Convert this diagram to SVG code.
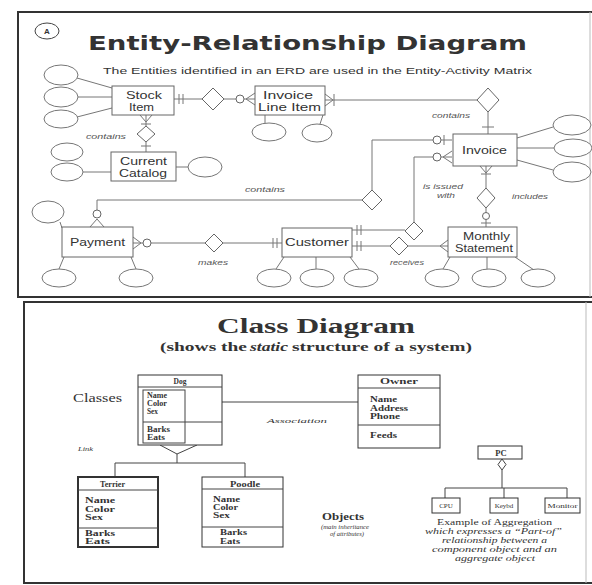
<svg xmlns="http://www.w3.org/2000/svg" width="592" height="585" viewBox="0 0 592 585">
<style>
.panel{fill:none;stroke:#333;stroke-width:2}
.edge{fill:none;stroke:#bbb;stroke-width:1}
.ent{fill:#fff;stroke:#666;stroke-width:1}
.att{fill:#fff;stroke:#777;stroke-width:1}
.ln{fill:none;stroke:#777;stroke-width:1}
.rel{fill:#fff;stroke:#666;stroke-width:1}
.opt{fill:#fff;stroke:#666;stroke-width:1}
.et{font-family:"Liberation Sans",Arial,sans-serif;font-size:10.5px;fill:#333}
.lb{font-family:"Liberation Sans",Arial,sans-serif;font-size:7px;font-style:italic;fill:#555}
.cls{fill:#fff;stroke:#333;stroke-width:1}
.thick{stroke-width:2}
.cl{fill:none;stroke:#444;stroke-width:1}
.sf{font-family:"Liberation Serif","Times New Roman",serif;fill:#333}
.ca{font-size:7.5px;font-weight:bold}
.it{font-style:italic}
</style>
<rect width="592" height="585" fill="#fff"/>

<!-- ===== Entity-Relationship panel ===== -->
<path class="panel" d="M592,12 H18 V297 H592"/>
<path class="edge" d="M590,12 V297"/>
<g id="badge">
  <ellipse cx="47" cy="31" rx="12" ry="8" fill="none" stroke="#444" stroke-width="1"/>
  <text x="47" y="34" text-anchor="middle" font-family="Liberation Sans, Arial, sans-serif" font-size="8" font-weight="bold" fill="#333">A</text>
</g>
<text x="88" y="50" font-family="DejaVu Sans, Liberation Sans, sans-serif" font-size="19" font-weight="bold" fill="#333" textLength="439" lengthAdjust="spacingAndGlyphs">Entity-Relationship Diagram</text>
<text x="103" y="74" font-family="Liberation Sans, Arial, sans-serif" font-size="9" fill="#333" textLength="429" lengthAdjust="spacingAndGlyphs">The Entities identified in an ERD are used in the Entity-Activity Matrix</text>

<!-- relationships and cardinality marks -->
<g id="connectors">
  <!-- Stock Item - Invoice Line Item -->
  <path class="ln" d="M174,99 H202 M224,99 H255 M179,94 V104 M183,94 V104 M246,99 L255,93 M246,99 L255,105"/>
  <circle class="opt" cx="240" cy="99" r="4"/>
  <polygon class="rel" points="202,99 213,88 224,99 213,110"/>
  <!-- Stock Item - Current Catalog -->
  <path class="ln" d="M146,115 V126 M146,142 V152 M146,122 L140,115 M146,122 L152,115 M141,124 H151 M141,146 H151"/>
  <polygon class="rel" points="137,134 146,126 155,134 146,142"/>
  <!-- Invoice Line Item - Invoice -->
  <path class="ln" d="M325,100 H477 M333,100 L325,94 M333,100 L325,106 M334,94 V106 M488,112 V134 M482,127 H494"/>
  <polygon class="rel" points="477,100 488,88 499,100 488,112"/>
  <!-- Invoice - Monthly Statement -->
  <path class="ln" d="M486,166 V188 M486,173 L480,166 M486,173 L492,166 M481,174 H491 M486,208 V227 M481,223 H491"/>
  <polygon class="rel" points="477,198 486,188 495,198 486,208"/>
  <circle class="opt" cx="486" cy="216" r="3.5"/>
  <!-- Customer - Invoice (is issued with) -->
  <path class="ln" d="M352,230 H405 M357,225 V235 M361,225 V235 M414,222 V157 H452 M443,157 L452,151 M443,157 L452,163"/>
  <circle class="opt" cx="437" cy="157" r="4"/>
  <polygon class="rel" points="405,231 414,222 423,231 414,240"/>
  <!-- Customer - Monthly Statement (receives) -->
  <path class="ln" d="M352,246 H390 M357,241 V251 M361,241 V251 M408,246 H448 M440,246 L448,240 M440,246 L448,252"/>
  <polygon class="rel" points="390,246 399,237 408,246 399,255"/>
  <!-- Payment - Customer (makes) -->
  <path class="ln" d="M133,243 H205 M141,243 L133,237 M141,243 L133,249 M223,243 H282 M273,238 V248 M277,238 V248"/>
  <circle class="opt" cx="147" cy="243" r="4"/>
  <polygon class="rel" points="205,243 214,234 223,243 214,252"/>
  <!-- Invoice - Payment (contains) -->
  <path class="ln" d="M452,140 H372 V190 M444,135 V145 M362,200 H97 V210 M97,219 L90,227 M97,219 L104,227"/>
  <circle class="opt" cx="437" cy="140" r="4"/>
  <circle class="opt" cx="97" cy="214" r="4"/>
  <polygon class="rel" points="362,200 372,190 382,200 372,210"/>
  <!-- attribute links -->
  <path class="ln" d="M77,78 L112,88 M78,97 H112 M77,117 L112,108 M83,172 H111 M176,167 H188 M265,115 V123 M323,115 L320,124 M517,138 L553,127 M517,148 H554 M517,160 L553,170 M60,222 L62,228 M64,257 L59,269 M131,257 L136,269 M284,257 L276,269 M316,257 V269 M350,257 L359,269 M450,257 L443,269 M487,257 V269 M515,257 L534,270"/>
  <!-- relationship labels -->
  <text class="lb" x="86" y="139" textLength="40" lengthAdjust="spacingAndGlyphs">contains</text>
  <text class="lb" x="432" y="118" textLength="38" lengthAdjust="spacingAndGlyphs">contains</text>
  <text class="lb" x="245" y="192" textLength="40" lengthAdjust="spacingAndGlyphs">contains</text>
  <text class="lb" x="198" y="265" textLength="30" lengthAdjust="spacingAndGlyphs">makes</text>
  <text class="lb" x="423" y="189" textLength="40" lengthAdjust="spacingAndGlyphs">is issued</text>
  <text class="lb" x="437" y="198" textLength="18" lengthAdjust="spacingAndGlyphs">with</text>
  <text class="lb" x="512" y="199" textLength="36" lengthAdjust="spacingAndGlyphs">includes</text>
  <text class="lb" x="390" y="265" textLength="34" lengthAdjust="spacingAndGlyphs">receives</text>
</g>

<!-- entities -->
<g id="stock-item">
  <ellipse class="att" cx="61" cy="75" rx="17" ry="10"/>
  <ellipse class="att" cx="61" cy="97" rx="17" ry="10"/>
  <ellipse class="att" cx="61" cy="119" rx="17" ry="9"/>
  <rect class="ent" x="112" y="86" width="62" height="29"/>
  <text class="et" x="126" y="99" textLength="36" lengthAdjust="spacingAndGlyphs">Stock</text>
  <text class="et" x="129" y="111" textLength="25" lengthAdjust="spacingAndGlyphs">Item</text>
</g>
<g id="invoice-line-item">
  <rect class="ent" x="255" y="86" width="70" height="29"/>
  <text class="et" x="263" y="99" textLength="50" lengthAdjust="spacingAndGlyphs">Invoice</text>
  <text class="et" x="258" y="111" textLength="63" lengthAdjust="spacingAndGlyphs">Line Item</text>
  <ellipse class="att" cx="269" cy="132" rx="17" ry="9"/>
  <ellipse class="att" cx="317" cy="133" rx="15" ry="9"/>
</g>
<g id="current-catalog">
  <ellipse class="att" cx="67" cy="152" rx="16" ry="9"/>
  <ellipse class="att" cx="67" cy="172" rx="16" ry="9"/>
  <rect class="ent" x="111" y="152" width="65" height="29"/>
  <text class="et" x="120" y="165" textLength="47" lengthAdjust="spacingAndGlyphs">Current</text>
  <text class="et" x="119" y="177" textLength="48" lengthAdjust="spacingAndGlyphs">Catalog</text>
  <ellipse class="att" cx="205" cy="167" rx="17" ry="10"/>
</g>
<g id="invoice">
  <rect class="ent" x="453" y="134" width="64" height="32"/>
  <text class="et" x="462" y="154" textLength="45" lengthAdjust="spacingAndGlyphs">Invoice</text>
  <ellipse class="att" cx="572" cy="125" rx="19" ry="10"/>
  <ellipse class="att" cx="573" cy="148" rx="19" ry="9"/>
  <ellipse class="att" cx="572" cy="172" rx="19" ry="10"/>
</g>
<g id="payment">
  <ellipse class="att" cx="48" cy="212" rx="16" ry="11"/>
  <rect class="ent" x="62" y="227" width="71" height="30"/>
  <text class="et" x="70" y="246" textLength="55" lengthAdjust="spacingAndGlyphs">Payment</text>
  <ellipse class="att" cx="59" cy="278" rx="17" ry="9"/>
  <ellipse class="att" cx="136" cy="278" rx="17" ry="9"/>
</g>
<g id="customer">
  <rect class="ent" x="282" y="228" width="70" height="29"/>
  <text class="et" x="285" y="246" textLength="64" lengthAdjust="spacingAndGlyphs">Customer</text>
  <ellipse class="att" cx="274" cy="278" rx="17" ry="9"/>
  <ellipse class="att" cx="317" cy="278" rx="17" ry="9"/>
  <ellipse class="att" cx="361" cy="278" rx="17" ry="9"/>
</g>
<g id="monthly-statement">
  <rect class="ent" x="448" y="227" width="69" height="30"/>
  <text class="et" x="463" y="240" textLength="47" lengthAdjust="spacingAndGlyphs">Monthly</text>
  <text class="et" x="455" y="252" textLength="58" lengthAdjust="spacingAndGlyphs">Statement</text>
  <ellipse class="att" cx="442" cy="278" rx="17" ry="9"/>
  <ellipse class="att" cx="489" cy="278" rx="17" ry="9"/>
  <ellipse class="att" cx="538" cy="278" rx="17" ry="9"/>
</g>

<!-- ===== Class diagram panel ===== -->
<path class="panel" d="M592,302 H24 V583 H592" stroke-width="1.5"/>
<path class="edge" d="M586,302 V583"/>
<text class="sf" x="217" y="333" font-size="20" font-weight="bold" textLength="198" lengthAdjust="spacingAndGlyphs">Class Diagram</text>
<text class="sf" x="160" y="351" font-size="12" font-weight="bold" textLength="87" lengthAdjust="spacingAndGlyphs">(shows the</text>
<text class="sf it" x="250" y="351" font-size="12" font-weight="bold" textLength="38" lengthAdjust="spacingAndGlyphs">static</text>
<text class="sf" x="292" y="351" font-size="12" font-weight="bold" textLength="180" lengthAdjust="spacingAndGlyphs">structure of a system)</text>

<text class="sf" x="73" y="402" font-size="12" textLength="49" lengthAdjust="spacingAndGlyphs">Classes</text>
<text class="sf it" x="267" y="423" font-size="6.5" textLength="60" lengthAdjust="spacingAndGlyphs">Association</text>
<text class="sf it" x="78" y="451" font-size="7" textLength="15" lengthAdjust="spacingAndGlyphs">Link</text>

<g id="class-links">
  <path class="cl" d="M222,402 H358"/>
  <path class="cl" d="M160,445 L177,454 L197,445 M177,454 V463 M115,463 H245 M115,463 V477 M245,463 V477"/>
  <path class="cl" d="M502,470 V488 M445,488 H567 M445,488 V498 M504,488 V498 M567,488 V498"/>
  <polygon points="502,459 506,464.5 502,470 498,464.5" fill="#fff" stroke="#444"/>
</g>

<g id="dog">
  <rect class="cls" x="138" y="375" width="84" height="70"/>
  <path class="cl" d="M138,387 H222 M143,422 H222"/>
  <rect x="143" y="390" width="42" height="53" fill="none" stroke="#444"/>
  <text class="sf ca" x="180" y="384" text-anchor="middle">Dog</text>
  <text class="sf ca" x="147" y="398" textLength="20" lengthAdjust="spacingAndGlyphs">Name</text>
  <text class="sf ca" x="147" y="406" textLength="20" lengthAdjust="spacingAndGlyphs">Color</text>
  <text class="sf ca" x="147" y="414" textLength="11" lengthAdjust="spacingAndGlyphs">Sex</text>
  <text class="sf ca" x="147" y="432" textLength="23" lengthAdjust="spacingAndGlyphs">Barks</text>
  <text class="sf ca" x="147" y="440" textLength="18" lengthAdjust="spacingAndGlyphs">Eats</text>
</g>
<g id="owner">
  <rect class="cls" x="358" y="375" width="82" height="73"/>
  <path class="cl" d="M358,388 H440 M358,425 H440"/>
  <text class="sf ca" x="380" y="384" textLength="38" lengthAdjust="spacingAndGlyphs">Owner</text>
  <text class="sf ca" x="370" y="402" textLength="27" lengthAdjust="spacingAndGlyphs">Name</text>
  <text class="sf ca" x="370" y="411" textLength="38" lengthAdjust="spacingAndGlyphs">Address</text>
  <text class="sf ca" x="370" y="419" textLength="30" lengthAdjust="spacingAndGlyphs">Phone</text>
  <text class="sf ca" x="370" y="438" textLength="27" lengthAdjust="spacingAndGlyphs">Feeds</text>
</g>
<g id="terrier">
  <rect class="cls thick" x="78" y="477" width="80" height="70"/>
  <path class="cl" d="M78,490 H158 M78,528 H158"/>
  <text class="sf ca" x="100" y="487" textLength="25" lengthAdjust="spacingAndGlyphs">Terrier</text>
  <text class="sf ca" x="85" y="503" textLength="30" lengthAdjust="spacingAndGlyphs">Name</text>
  <text class="sf ca" x="85" y="512" textLength="30" lengthAdjust="spacingAndGlyphs">Color</text>
  <text class="sf ca" x="85" y="520" textLength="18" lengthAdjust="spacingAndGlyphs">Sex</text>
  <text class="sf ca" x="85" y="536" textLength="30" lengthAdjust="spacingAndGlyphs">Barks</text>
  <text class="sf ca" x="85" y="544" textLength="25" lengthAdjust="spacingAndGlyphs">Eats</text>
</g>
<g id="poodle">
  <rect class="cls" x="202" y="477" width="81" height="70" stroke-width="1.5"/>
  <path class="cl" d="M202,489 H283 M202,527 H283"/>
  <text class="sf ca" x="230" y="487" font-weight="normal" textLength="30" lengthAdjust="spacingAndGlyphs">Poodle</text>
  <text class="sf ca" x="213" y="502" font-weight="normal" textLength="27" lengthAdjust="spacingAndGlyphs">Name</text>
  <text class="sf ca" x="213" y="510" font-weight="normal" textLength="25" lengthAdjust="spacingAndGlyphs">Color</text>
  <text class="sf ca" x="213" y="518" font-weight="normal" textLength="17" lengthAdjust="spacingAndGlyphs">Sex</text>
  <text class="sf ca" x="220" y="535" font-weight="normal" textLength="27" lengthAdjust="spacingAndGlyphs">Barks</text>
  <text class="sf ca" x="220" y="544" font-weight="normal" textLength="20" lengthAdjust="spacingAndGlyphs">Eats</text>
</g>
<g id="objects-note">
  <text class="sf" x="343" y="520" font-size="11" font-weight="bold" text-anchor="middle" textLength="42" lengthAdjust="spacingAndGlyphs">Objects</text>
  <text class="sf it" x="345" y="529" font-size="7" text-anchor="middle" textLength="48" lengthAdjust="spacingAndGlyphs">(main inheritance</text>
  <text class="sf it" x="347" y="536" font-size="7" text-anchor="middle" textLength="34" lengthAdjust="spacingAndGlyphs">of attributes)</text>
</g>
<g id="pc">
  <rect class="cls" x="478" y="446" width="44" height="13"/>
  <text class="sf" x="501" y="456" font-size="8.5" font-weight="bold" text-anchor="middle">PC</text>
</g>
<g id="cpu">
  <rect class="cls" x="432" y="498" width="28" height="15"/>
  <text class="sf" x="446" y="508" font-size="7" text-anchor="middle">CPU</text>
</g>
<g id="keybd">
  <rect class="cls" x="490" y="498" width="28" height="15"/>
  <text class="sf" x="504" y="508" font-size="7" text-anchor="middle">Keybd</text>
</g>
<g id="monitor">
  <rect class="cls" x="545" y="498" width="35" height="15"/>
  <text class="sf" x="562.5" y="508" font-size="7" text-anchor="middle" textLength="30" lengthAdjust="spacingAndGlyphs">Monitor</text>
</g>
<g id="aggregation-note" class="sf" font-size="8">
  <text x="437" y="525" textLength="115" lengthAdjust="spacingAndGlyphs">Example of Aggregation</text>
  <text class="it" x="425" y="534" textLength="137" lengthAdjust="spacingAndGlyphs">which expresses a &#8220;Part-of&#8221;</text>
  <text class="it" x="442" y="543" textLength="105" lengthAdjust="spacingAndGlyphs">relationship between a</text>
  <text class="it" x="432" y="552" textLength="125" lengthAdjust="spacingAndGlyphs">component object and an</text>
  <text class="it" x="455" y="561" textLength="80" lengthAdjust="spacingAndGlyphs">aggregate object</text>
</g>
</svg>
